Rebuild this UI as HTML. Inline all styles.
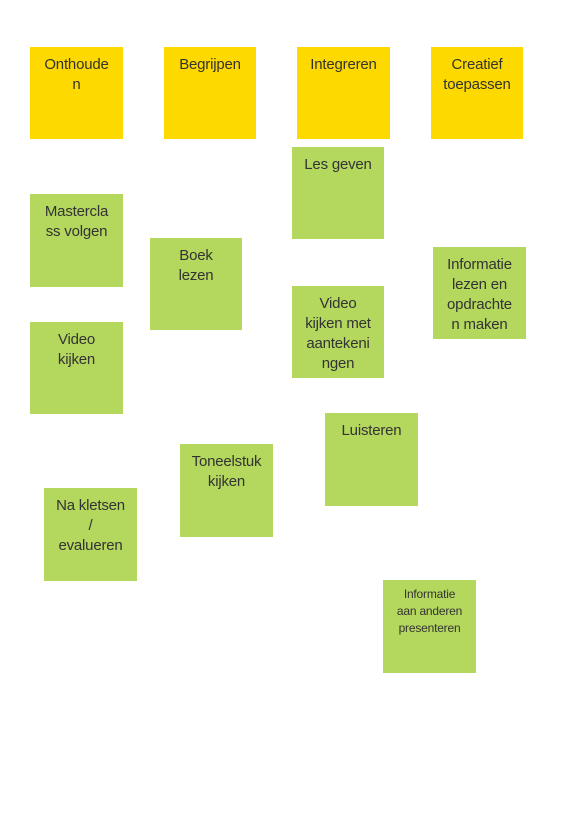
<!DOCTYPE html>
<html><head><meta charset="utf-8"><style>
html,body{margin:0;padding:0;background:#fff;}
body{width:584px;height:825px;position:relative;overflow:hidden;font-family:"Liberation Sans",sans-serif;}
.n{position:absolute;width:93px;height:92px;box-sizing:border-box;padding-top:8px;text-align:center;font-size:15px;line-height:20px;color:#333;letter-spacing:-0.2px;}
.y{background:#FDD900;}
.g{background:#B4D75E;}
</style></head><body>
<div class="n y" style="left:30px;top:47px">Onthoude<br>n</div>
<div class="n y" style="left:164px;top:47px;width:92px">Begrijpen</div>
<div class="n y" style="left:297px;top:47px">Integreren</div>
<div class="n y" style="left:431px;top:47px;width:92px">Creatief<br>toepassen</div>
<div class="n g" style="left:292px;top:147px;width:92px">Les geven</div>
<div class="n g" style="left:30px;top:194px;height:93px">Mastercla<br>ss volgen</div>
<div class="n g" style="left:150px;top:238px;width:92px">Boek<br>lezen</div>
<div class="n g" style="left:433px;top:247px">Informatie<br>lezen en<br>opdrachte<br>n maken</div>
<div class="n g" style="left:292px;top:286px;width:92px">Video<br>kijken met<br>aantekeni<br>ngen</div>
<div class="n g" style="left:30px;top:322px">Video<br>kijken</div>
<div class="n g" style="left:325px;top:413px;height:93px">Luisteren</div>
<div class="n g" style="left:180px;top:444px;height:93px">Toneelstuk<br>kijken</div>
<div class="n g" style="left:44px;top:488px;height:93px">Na kletsen<br>/<br>evalueren</div>
<div class="n g" style="left:383px;top:580px;height:93px;font-size:12px;line-height:17px;padding-top:6px">Informatie<br>aan anderen<br>presenteren</div>
</body></html>
